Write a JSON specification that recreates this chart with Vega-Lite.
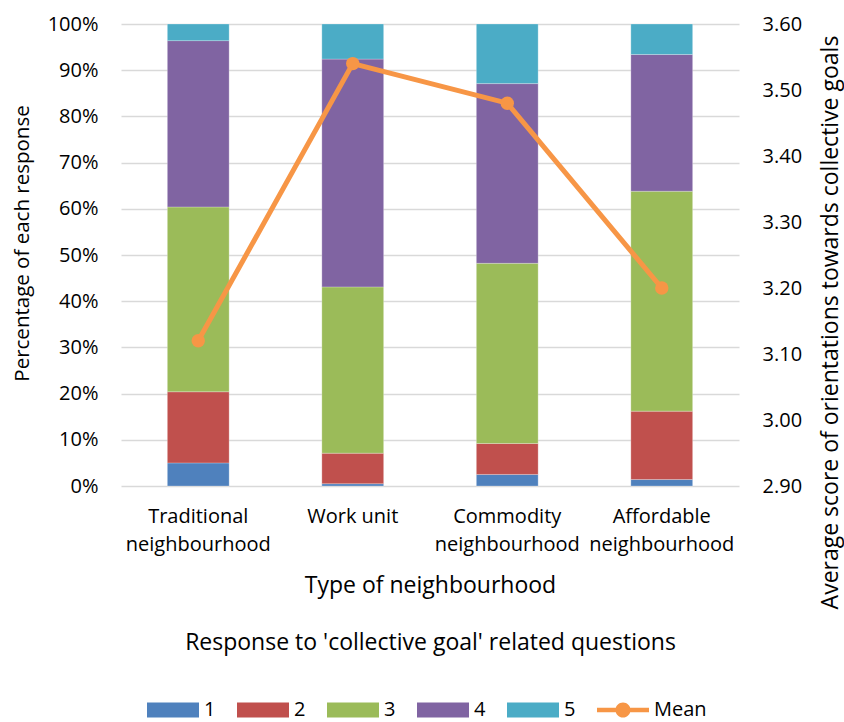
{
  "$schema": "https://vega.github.io/schema/vega-lite/v6.json",
  "width": 618,
  "height": 462,
  "autosize": "none",
  "padding": {"left": 121, "top": 24, "right": 105, "bottom": 236},
  "background": "white",
  "config": {
    "font": "Open Sans",
    "view": {"stroke": null},
    "axis": {"labelFont": "Open Sans", "titleFont": "Open Sans", "labelFontSize": 20, "titleFontSize": 23, "labelColor": "#000000", "titleColor": "#000000", "titleFontWeight": "normal", "ticks": false, "domain": false},
    "legend": {"labelFont": "Open Sans", "labelFontSize": 20, "labelColor": "#000000"}
  },
  "datasets": {
    "bars": [
      {"type": "Traditional|neighbourhood", "response": "1", "pct": 5.0},
      {"type": "Traditional|neighbourhood", "response": "2", "pct": 15.4},
      {"type": "Traditional|neighbourhood", "response": "3", "pct": 40.0},
      {"type": "Traditional|neighbourhood", "response": "4", "pct": 36.0},
      {"type": "Traditional|neighbourhood", "response": "5", "pct": 3.6},
      {"type": "Work unit", "response": "1", "pct": 0.5},
      {"type": "Work unit", "response": "2", "pct": 6.6},
      {"type": "Work unit", "response": "3", "pct": 36.0},
      {"type": "Work unit", "response": "4", "pct": 49.3},
      {"type": "Work unit", "response": "5", "pct": 7.6},
      {"type": "Commodity|neighbourhood", "response": "1", "pct": 2.5},
      {"type": "Commodity|neighbourhood", "response": "2", "pct": 6.7},
      {"type": "Commodity|neighbourhood", "response": "3", "pct": 39.0},
      {"type": "Commodity|neighbourhood", "response": "4", "pct": 38.9},
      {"type": "Commodity|neighbourhood", "response": "5", "pct": 12.9},
      {"type": "Affordable|neighbourhood", "response": "1", "pct": 1.4},
      {"type": "Affordable|neighbourhood", "response": "2", "pct": 14.8},
      {"type": "Affordable|neighbourhood", "response": "3", "pct": 47.6},
      {"type": "Affordable|neighbourhood", "response": "4", "pct": 29.6},
      {"type": "Affordable|neighbourhood", "response": "5", "pct": 6.6}
    ],
    "means": [
      {"type": "Traditional|neighbourhood", "response": "Mean", "mean": 3.12},
      {"type": "Work unit", "response": "Mean", "mean": 3.54},
      {"type": "Commodity|neighbourhood", "response": "Mean", "mean": 3.48},
      {"type": "Affordable|neighbourhood", "response": "Mean", "mean": 3.20}
    ]
  },
  "encoding": {
    "x": {
      "field": "type",
      "type": "nominal",
      "sort": ["Traditional|neighbourhood", "Work unit", "Commodity|neighbourhood", "Affordable|neighbourhood"],
      "scale": {"paddingInner": 0.6, "paddingOuter": 0.3},
      "axis": {
        "labelAngle": 0,
        "labelExpr": "split(datum.label, '|')",
        "labelPadding": 20,
        "labelLineHeight": 28,
        "labelBaseline": "top",
        "title": ["Type of neighbourhood", "Response to 'collective goal' related questions"],
        "titleLineHeight": 57,
        "titleBaseline": "alphabetic",
        "titleY": 106,
        "grid": false
      }
    },
    "color": {
      "field": "response",
      "type": "nominal",
      "scale": {
        "domain": ["1", "2", "3", "4", "5", "Mean"],
        "range": ["#4F81BD", "#C0504D", "#9BBB59", "#8064A2", "#4BACC6", "#F79646"]
      },
      "legend": {
        "title": null,
        "orient": "none",
        "direction": "horizontal",
        "legendX": 26,
        "legendY": 660,
        "columns": 6,
        "columnPadding": 21,
        "labelOffset": 5,
        "symbolSize": 2704,
        "symbolType": "M-1,-0.29H1V0.29H-1Z",
        "symbolStrokeWidth": 0,
        "encode": {
          "symbols": {
            "update": {
              "shape": {"signal": "datum.value === 'Mean' ? 'M-1,-0.09H1V0.09H-1Z M-0.29,0A0.29,0.29 0 1,1 0.29,0A0.29,0.29 0 1,1 -0.29,0Z' : 'M-1,-0.29H1V0.29H-1Z'"},
              "fill": {"scale": "color", "field": "value"},
              "fillOpacity": {"value": 1},
              "strokeWidth": {"value": 0}
            }
          }
        }
      }
    }
  },
  "layer": [
    {
      "data": {"name": "bars"},
      "mark": {"type": "bar", "stroke": "white", "strokeWidth": 0.5, "strokeOpacity": 0.5},
      "encoding": {
        "y": {
          "field": "pct",
          "type": "quantitative",
          "stack": "zero",
          "scale": {"domain": [0, 100], "nice": false},
          "axis": {
            "values": [0, 10, 20, 30, 40, 50, 60, 70, 80, 90, 100],
            "labelExpr": "datum.value + '%'",
            "labelPadding": 23,
            "grid": true,
            "gridColor": "#D9D9D9",
            "gridWidth": 1.5,
            "title": "Percentage of each response",
            "titleFontSize": 20.5,
            "titleX": -99,
            "titleY": 219,
            "titleBaseline": "middle",
            "titleAngle": 270
          }
        },
        "order": {"field": "response", "type": "ordinal"}
      }
    },
    {
      "data": {"name": "means"},
      "mark": {"type": "line", "strokeWidth": 5, "point": {"filled": true, "size": 180}},
      "encoding": {
        "y": {
          "field": "mean",
          "type": "quantitative",
          "scale": {"domain": [2.9, 3.6], "nice": false, "zero": false},
          "axis": {
            "orient": "right",
            "values": [2.9, 3.0, 3.1, 3.2, 3.3, 3.4, 3.5, 3.6],
            "format": ".2f",
            "labelPadding": 23,
            "grid": false,
            "title": "Average score of orientations towards collective goals",
            "titleX": 91,
            "titleY": 298,
            "titleBaseline": "middle",
            "titleAngle": 270
          }
        }
      }
    }
  ],
  "resolve": {"scale": {"y": "independent"}}
}
